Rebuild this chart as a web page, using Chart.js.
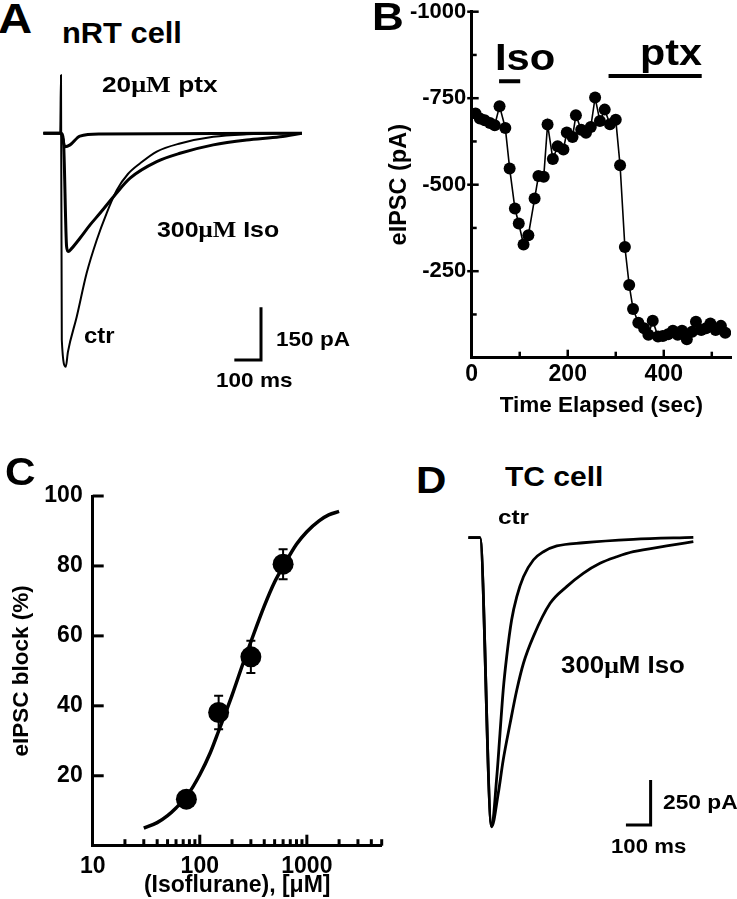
<!DOCTYPE html>
<html>
<head>
<meta charset="utf-8">
<script src="https://cdn.jsdelivr.net/npm/chart.js@4.4.1/dist/chart.umd.min.js"></script>
<style>
html,body{margin:0;padding:0;background:#fff;}
#wrap{position:relative;width:737px;height:899px;overflow:hidden;background:#fff;}
canvas{position:absolute;}
.lbl{position:absolute;white-space:nowrap;font-family:'Liberation Sans',Arial,Helvetica,sans-serif;font-weight:bold;color:#000;transform-origin:0 0;z-index:5;}
.serif{font-family:'Liberation Serif','Times New Roman',serif;}
</style>
</head>
<body>
<div id="wrap">
  <canvas id="cA" width="275" height="320" style="left:40px;top:60px;"></canvas>
  <canvas id="cB" width="367" height="430" style="left:370px;top:0px;"></canvas>
  <canvas id="cC" width="400" height="459" style="left:0px;top:440px;"></canvas>
  <canvas id="cD" width="260" height="320" style="left:455px;top:520px;"></canvas>
</div>
<script>
// ---------- Panel A : nRT cell traces (time in ms, current in pA) ----------
const aCtrTime    = [-66, -3, 0, 3, 18, 26, 59, 96, 134, 171, 209, 251, 296, 359, 446, 571, 696, 903];
const aCtrCurrent = [0, 0, 166, -589, -665, -623, -523, -399, -304, -228, -162, -116, -86, -52, -29, -10, -3, 0];
const aIsoTime    = [-66, -3, 0, 9, 21, 27, 40, 71, 109, 146, 203, 259, 359, 446, 571, 696, 821, 903];
const aIsoCurrent = [0, 0, 0, -19, -323, -337, -328, -299, -261, -228, -175, -128, -81, -57, -33, -19, -10, 0];
const aPtxTime    = [-66, -3, 0, 15, 34, 71, 146, 903];
const aPtxCurrent = [0, 0, 0, -38, -33, -8, -2, 0];
const aScaleBar   = {time: 100, current: 150, corner: [750, -646]};

// ---------- Panel B : eIPSC amplitude over time ----------
const bTime    = [8,17,27,38,48,58,70,79,90,98,108,118,131,139,150,158,169,179,191,198,210,217,228,238,248,257,267,277,288,300,309,319,328,336,347,359,368,377,388,398,409,419,429,438,448,459,467,478,488,497,508,519,528];
const bCurrent = [-706,-691,-686,-678,-672,-727,-664,-547,-431,-388,-327,-354,-460,-525,-523,-674,-574,-611,-602,-651,-638,-701,-659,-650,-667,-752,-684,-717,-675,-688,-556,-320,-210,-141,-101,-85,-66,-107,-61,-63,-68,-78,-66,-78,-53,-75,-104,-80,-85,-99,-80,-92,-72];
const bTimeTicks     = [0, 200, 400];
const bTimeMinor     = [100, 300, 500];
const bCurrentTicks  = [-1000, -750, -500, -250];
const bCurrentMinor  = [-875, -625, -375, -125];
const bIsoBar = [57, 101, -799];    // start, end (sec), level (pA)
const bPtxBar = [285, 479, -814];

// ---------- Panel C : dose-response ----------
const cDose  = [75, 150, 300, 600];
const cBlock = [13.3, 38.1, 54.0, 80.5];
const cErr   = [1.5, 4.8, 4.6, 4.3];
const cFitDose  = [30, 40, 50, 60, 75, 100, 125, 150, 200, 250, 300, 400, 500, 600, 800, 1000, 1300, 1600, 2000];
const cFitBlock = [5.0, 6.6, 8.6, 10.8, 14.0, 20.3, 26.5, 32.8, 43.0, 51.6, 58.3, 68.5, 75.4, 79.8, 86.2, 89.8, 92.9, 94.6, 95.6];
const cDoseTicks  = [10, 100, 1000];
const cDoseMinor  = [20,30,40,50,60,70,80,90,200,300,400,500,600,700,800,900,2000,3000,4000,5000];
const cBlockTicks = [20, 40, 60, 80, 100];

// ---------- Panel D : TC cell traces ----------
const dCtrTime    = [-47, 0, 47, 68, 81, 94, 108, 128, 149, 176, 216, 257, 311, 418, 621, 864];
const dCtrCurrent = [0, 0, -1607, -1329, -1088, -847, -662, -458, -328, -217, -124, -78, -46, -28, -9, 2];
const dIsoTime    = [-47, 0, 47, 74, 94, 122, 149, 176, 216, 284, 351, 418, 486, 554, 621, 756, 864];
const dIsoCurrent = [0, 0, -1607, -1421, -1236, -1032, -847, -698, -550, -365, -272, -198, -142, -106, -78, -46, -22];
const dScaleBar   = {time: 100, current: 250, corner: [691, -1597]};

// ---------- helpers & plugins ----------
const FONT = "'Liberation Sans', Arial, Helvetica, sans-serif";
Chart.defaults.font.family = FONT;
Chart.defaults.color = '#000';
Chart.defaults.animation = false;

function xy(xs, ys) { return xs.map((x, i) => ({x: x, y: ys[i]})); }

const tickMarks = {
  id: 'tickMarks',
  afterDraw(chart, args, opts) {
    const ctx = chart.ctx, ca = chart.chartArea;
    ctx.save();
    ctx.strokeStyle = '#000';
    ctx.lineCap = 'butt';
    (opts.marks || []).forEach(m => {
      const sc = chart.scales[m.axis];
      ctx.lineWidth = m.width || 2;
      m.values.forEach(v => {
        const p = sc.getPixelForValue(v);
        ctx.beginPath();
        if (sc.isHorizontal()) {
          ctx.moveTo(p, ca.bottom + (m.out || 0));
          ctx.lineTo(p, ca.bottom - m.in);
        } else {
          ctx.moveTo(ca.left - (m.out || 0), p);
          ctx.lineTo(ca.left + m.in, p);
        }
        ctx.stroke();
      });
    });
    ctx.restore();
  }
};

const scaleBar = {
  id: 'scaleBar',
  afterDatasetsDraw(chart, args, o) {
    if (!o || !o.corner) return;
    const ctx = chart.ctx, xs = chart.scales.x, ys = chart.scales.y;
    const cx = xs.getPixelForValue(o.corner[0]);
    const cy = ys.getPixelForValue(o.corner[1]);
    const lx = xs.getPixelForValue(o.corner[0] - o.time);
    const ty = ys.getPixelForValue(o.corner[1] + o.current);
    ctx.save();
    ctx.strokeStyle = '#000';
    ctx.lineWidth = 3;
    ctx.lineJoin = 'miter';
    ctx.beginPath();
    ctx.moveTo(cx, ty);
    ctx.lineTo(cx, cy);
    ctx.lineTo(lx, cy);
    ctx.stroke();
    ctx.restore();
  }
};

const drugBars = {
  id: 'drugBars',
  afterDatasetsDraw(chart, args, o) {
    const ctx = chart.ctx, xs = chart.scales.x, ys = chart.scales.y;
    ctx.save();
    ctx.strokeStyle = '#000';
    ctx.lineWidth = 4;
    (o.bars || []).forEach(b => {
      const y = ys.getPixelForValue(b[2]);
      ctx.beginPath();
      ctx.moveTo(xs.getPixelForValue(b[0]), y);
      ctx.lineTo(xs.getPixelForValue(b[1]), y);
      ctx.stroke();
    });
    ctx.restore();
  }
};

const errorBars = {
  id: 'errorBars',
  beforeDatasetsDraw(chart, args, o) {
    const ctx = chart.ctx, xs = chart.scales.x, ys = chart.scales.y;
    ctx.save();
    ctx.strokeStyle = '#000';
    ctx.lineWidth = 2;
    o.x.forEach((xv, i) => {
      const px = xs.getPixelForValue(xv);
      const top = ys.getPixelForValue(o.y[i] + o.err[i]);
      const bot = ys.getPixelForValue(o.y[i] - o.err[i]);
      ctx.beginPath();
      ctx.moveTo(px, top); ctx.lineTo(px, bot);
      ctx.moveTo(px - 4.5, top); ctx.lineTo(px + 4.5, top);
      ctx.moveTo(px - 4.5, bot); ctx.lineTo(px + 4.5, bot);
      ctx.stroke();
    });
    ctx.restore();
  }
};

function setTicks(values) {
  return function(scale) { scale.ticks = values.map(v => ({value: v})); };
}
const noTicksGrid = {display: false, drawTicks: false};

const traceBase = {pointRadius: 0, borderColor: '#000', cubicInterpolationMode: 'monotone', borderJoinStyle: 'round', fill: false};

// ---------- Panel A chart ----------
new Chart(document.getElementById('cA'), {
  type: 'line',
  data: {datasets: [
    Object.assign({label: '20 μM ptx', data: xy(aPtxTime, aPtxCurrent), borderWidth: 3}, traceBase),
    Object.assign({label: '300 μM Iso', data: xy(aIsoTime, aIsoCurrent), borderWidth: 3}, traceBase),
    Object.assign({label: 'ctr', data: xy(aCtrTime, aCtrCurrent), borderWidth: 2}, traceBase)
  ]},
  options: {
    responsive: false, animation: false,
    layout: {padding: 0},
    plugins: {legend: {display: false}, tooltip: {enabled: false}, scaleBar: aScaleBar},
    scales: {
      x: {type: 'linear', display: false, min: -78.75, max: 952.5},
      y: {type: 'linear', display: false, min: -703.1, max: 208.9}
    }
  },
  plugins: [scaleBar]
});

// ---------- Panel B chart ----------
new Chart(document.getElementById('cB'), {
  type: 'scatter',
  data: {datasets: [{
    label: 'eIPSC',
    data: xy(bTime, bCurrent),
    showLine: true, borderColor: '#000', borderWidth: 1.6,
    pointRadius: 6, pointBackgroundColor: '#000', pointBorderColor: '#000', pointBorderWidth: 0,
    tension: 0
  }]},
  options: {
    responsive: false, animation: false,
    layout: {padding: {top: 11.7, right: 4.3, left: 0, bottom: 0}},
    plugins: {
      legend: {display: false}, tooltip: {enabled: false},
      drugBars: {bars: [bIsoBar, bPtxBar]},
      tickMarks: {marks: [
        {axis: 'y', values: bCurrentTicks, in: 7, out: 4.5, width: 2.5},
        {axis: 'y', values: bCurrentMinor, in: 5, out: 0, width: 2.5},
        {axis: 'x', values: bTimeTicks, in: 8, out: 0, width: 2.5},
        {axis: 'x', values: bTimeMinor, in: 6, out: 0, width: 2.5}
      ]}
    },
    scales: {
      x: {
        type: 'linear', min: 0, max: 540, bounds: 'data',
        grid: noTicksGrid,
        border: {display: true, color: '#000', width: 3},
        afterBuildTicks: setTicks(bTimeTicks),
        afterFit(s) { s.height = 72.3; s.paddingLeft = 0; s.paddingRight = 0; },
        ticks: {font: {size: 23, weight: 'bold'}, padding: 3, maxRotation: 0, callback: v => String(v)},
        title: {display: true, text: 'Time Elapsed (sec)', font: {size: 22.5, weight: 'bold'}, padding: {top: 0, bottom: 11}}
      },
      y: {
        type: 'linear', min: -1000, max: 0, reverse: true, bounds: 'data',
        grid: noTicksGrid,
        border: {display: true, color: '#000', width: 3},
        afterBuildTicks: setTicks(bCurrentTicks),
        afterFit(s) { s.width = 101.7; s.paddingTop = 0; s.paddingBottom = 0; },
        ticks: {font: {size: 22, weight: 'bold'}, padding: 5.5, callback: v => String(v)},
        title: {display: true, text: 'eIPSC (pA)', font: {size: 23.5, weight: 'bold'}, padding: {top: 15.5, bottom: 0}}
      }
    }
  },
  plugins: [drugBars, tickMarks]
});

// ---------- Panel C chart ----------
new Chart(document.getElementById('cC'), {
  type: 'scatter',
  data: {datasets: [
    {label: 'fit', data: xy(cFitDose, cFitBlock), showLine: true, borderColor: '#000', borderWidth: 3.5,
     pointRadius: 0, cubicInterpolationMode: 'monotone'},
    {label: 'eIPSC block', data: xy(cDose, cBlock), showLine: false, pointRadius: 10.5,
     pointBackgroundColor: '#000', pointBorderColor: '#000', pointBorderWidth: 0}
  ]},
  options: {
    responsive: false, animation: false,
    layout: {padding: {top: 56, right: 18.3, left: 0, bottom: 0}},
    plugins: {
      legend: {display: false}, tooltip: {enabled: false},
      errorBars: {x: cDose, y: cBlock, err: cErr},
      tickMarks: {marks: [
        {axis: 'y', values: cBlockTicks, in: 11, out: 0, width: 3},
        {axis: 'x', values: [100, 1000], in: 11, out: 0, width: 3},
        {axis: 'x', values: cDoseMinor, in: 6.5, out: 0, width: 3}
      ]}
    },
    scales: {
      x: {
        type: 'logarithmic', min: 10, max: 5000, bounds: 'data',
        grid: noTicksGrid,
        border: {display: true, color: '#000', width: 3},
        afterBuildTicks: setTicks(cDoseTicks),
        afterFit(s) { s.height = 53.3; s.paddingLeft = 0; s.paddingRight = 0; },
        ticks: {font: {size: 23, weight: 'bold'}, padding: 7, maxRotation: 0, autoSkip: false, callback: v => String(v)},
        title: {display: true, text: '(Isoflurane), [μM]', font: {size: 23, weight: 'bold'}, padding: {top: 0, bottom: 0}}
      },
      y: {
        type: 'linear', min: 0, max: 100, bounds: 'data',
        grid: noTicksGrid,
        border: {display: true, color: '#000', width: 3},
        afterBuildTicks: setTicks(cBlockTicks),
        afterFit(s) { s.width = 92.7; s.paddingTop = 0; s.paddingBottom = 0; },
        ticks: {font: {size: 23, weight: 'bold'}, padding: 10, callback: v => String(v)},
        title: {display: true, text: 'eIPSC block (%)', font: {size: 22.5, weight: 'bold'}, padding: {top: 8, bottom: 0}}
      }
    }
  },
  plugins: [errorBars, tickMarks]
});

// ---------- Panel D chart ----------
new Chart(document.getElementById('cD'), {
  type: 'line',
  data: {datasets: [
    Object.assign({label: '300 μM Iso', data: xy(dIsoTime, dIsoCurrent), borderWidth: 2.8}, traceBase),
    Object.assign({label: 'ctr', data: xy(dCtrTime, dCtrCurrent), borderWidth: 2.8}, traceBase)
  ]},
  options: {
    responsive: false, animation: false,
    layout: {padding: 0},
    plugins: {legend: {display: false}, tooltip: {enabled: false}, scaleBar: dScaleBar},
    scales: {
      x: {type: 'linear', display: false, min: -101.25, max: 951.75},
      y: {type: 'linear', display: false, min: -1680.8, max: 98.4}
    }
  },
  plugins: [scaleBar]
});

// ---------- text annotations (real text) ----------
const annotations = [
  {t: 'A', x: 0, b: 33.3, s: 42, w: 30},
  {t: 'nRT cell', x: 63, b: 43.3, s: 29, w: 117},
  {t: '20<span class="serif">μM</span> ptx', x: 103.3, b: 93.3, s: 22.3, w: 113.4},
  {t: '300<span class="serif">μM</span> Iso', x: 158.3, b: 238.3, s: 22.3, w: 120},
  {t: 'ctr', x: 85, b: 343.3, s: 22, w: 28.3},
  {t: '150 pA', x: 276.7, b: 346, s: 20, w: 72},
  {t: '100 ms', x: 217.3, b: 387.3, s: 20.5, w: 74.4},
  {t: 'B', x: 374, b: 30, s: 38, w: 28},
  {t: 'Iso', x: 496.7, b: 70, s: 37, w: 56.6},
  {t: 'ptx', x: 641.7, b: 65, s: 36, w: 58.3},
  {t: 'C', x: 6.7, b: 485, s: 39.5, w: 26.6},
  {t: 'D', x: 418.3, b: 493.3, s: 37, w: 26.7},
  {t: 'TC cell', x: 506, b: 486.7, s: 27, w: 95.7},
  {t: 'ctr', x: 499.3, b: 524, s: 21, w: 29},
  {t: '300<span class="serif">μ</span>M Iso', x: 561.7, b: 673.3, s: 23, w: 121.6},
  {t: '250 pA', x: 664, b: 809.3, s: 20, w: 72.7},
  {t: '100 ms', x: 611.7, b: 853.3, s: 19.6, w: 73.3}
];
const wrap = document.getElementById('wrap');
annotations.forEach(L => {
  const el = document.createElement('div');
  el.className = 'lbl';
  el.innerHTML = L.t;
  el.style.fontSize = L.s + 'px';
  el.style.lineHeight = L.s + 'px';
  el.style.left = (L.x - 0.05 * L.s) + 'px';
  el.style.top = (L.b - 0.8465 * L.s) + 'px';
  wrap.appendChild(el);
  const w = el.getBoundingClientRect().width;
  let k = (L.w + 0.1 * L.s) / w;
  k = Math.max(0.8, Math.min(1.45, k));
  el.style.transform = 'scaleX(' + k.toFixed(3) + ')';
});
</script>
</body>
</html>
